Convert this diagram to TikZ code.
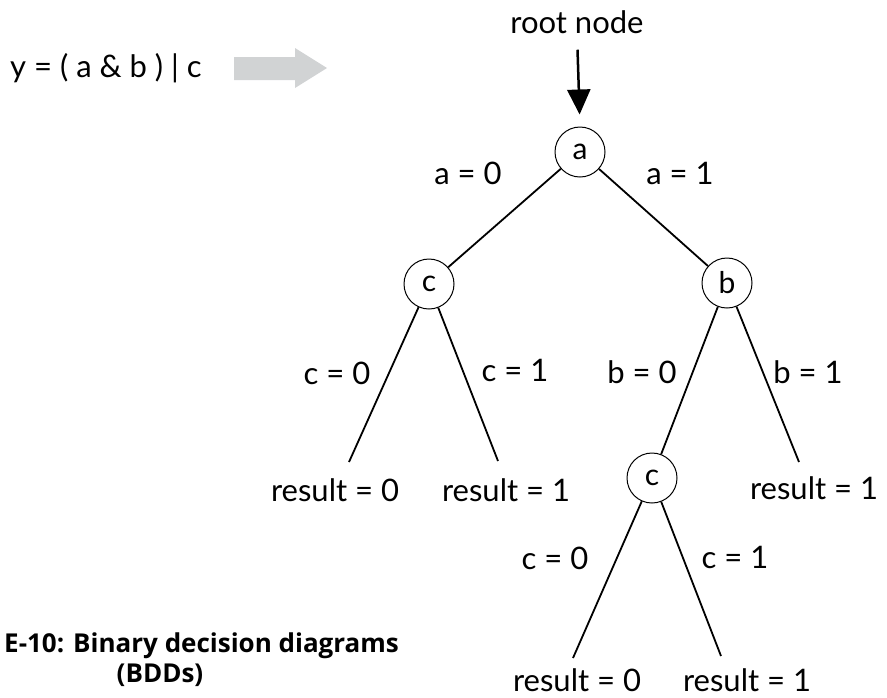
\documentclass[tikz,border=0pt]{standalone}
\usepackage{fontspec}
\setmainfont{Lato}
\newfontfamily\capfont{Open Sans}
\usetikzlibrary{positioning,arrows.meta}
\definecolor{bddgray}{HTML}{D1D3D4}

\begin{document}
\begin{tikzpicture}[x=1pt, y=-1pt,
    vnode/.style={circle, draw, line width=1pt, minimum size=50pt, inner sep=0pt,
      font=\fontsize{30}{30}\selectfont},
    lbl/.style={font=\fontsize{31}{31}\selectfont, inner sep=0pt},
    edge/.style={line width=1.8pt}]
  \useasboundingbox (0,0) rectangle (887,697);
  % formula and grey arrow
  \node[lbl, anchor=west] (formula) at (10,68) {y = ( a \& b ) | c};
  \fill[bddgray] (234,57) -- (295,57) -- (295,48) -- (327,68) -- (295,88) -- (295,80) -- (234,80) -- cycle;
  % decision nodes
  \node[lbl] (rootlbl) at (577,22) {root node};
  \node[vnode] (nodeA) at (580,152) {a};
  \node[vnode] (nodeC) at (429,284) {c};
  \node[vnode] (nodeB) at (727,283) {b};
  \node[vnode] (nodeCC) at (652,478) {c};
  \draw[line width=2.5pt, -{Triangle[length=25pt, width=23pt]}, shorten <=16pt, shorten >=12pt]
    (rootlbl.south) -- (nodeA.north);
  % free ends above the results
  \coordinate (endCL) at (349,462);
  \coordinate (endCR) at (498,461);
  \coordinate (endBR) at (799,462);
  \coordinate (endCCL) at (573,658);
  \coordinate (endCCR) at (721,656);
  \draw[edge] (nodeA) -- (nodeC);
  \draw[edge] (nodeA) -- (nodeB);
  \draw[edge] (nodeC) -- (endCL);
  \draw[edge] (nodeC) -- (endCR);
  \draw[edge] (nodeB) -- (nodeCC);
  \draw[edge] (nodeB) -- (endBR);
  \draw[edge] (nodeCC) -- (endCCL);
  \draw[edge] (nodeCC) -- (endCCR);
  % edge labels
  \node[lbl] (lblA0) at (468,173) {a = 0};
  \node[lbl] (lblA1) at (680,173) {a = 1};
  \node[lbl] (lblC0) at (337,373) {c = 0};
  \node[lbl] (lblC1) at (515,370) {c = 1};
  \node[lbl] (lblB0) at (642,372) {b = 0};
  \node[lbl] (lblB1) at (808,372) {b = 1};
  \node[lbl] (lblCC0) at (555,558) {c = 0};
  \node[lbl] (lblCC1) at (735,557) {c = 1};
  % results
  \node[lbl] (resCL) at (335,490) {result = 0};
  \node[lbl] (resCR) at (506,490) {result = 1};
  \node[lbl] (resBR) at (814,488) {result = 1};
  \node[lbl] (resCCL) at (577,680) {result = 0};
  \node[lbl] (resCCR) at (747,680) {result = 1};
  % caption
  \node[anchor=west, inner sep=0pt, font=\capfont\bfseries\fontsize{26}{26}\selectfont] (capA) at (4,646) {E-10: Binary decision diagrams};
  \node[inner sep=0pt, font=\capfont\bfseries\fontsize{26}{26}\selectfont] (capB) at (160,675) {(BDDs)};
\end{tikzpicture}
\end{document}
